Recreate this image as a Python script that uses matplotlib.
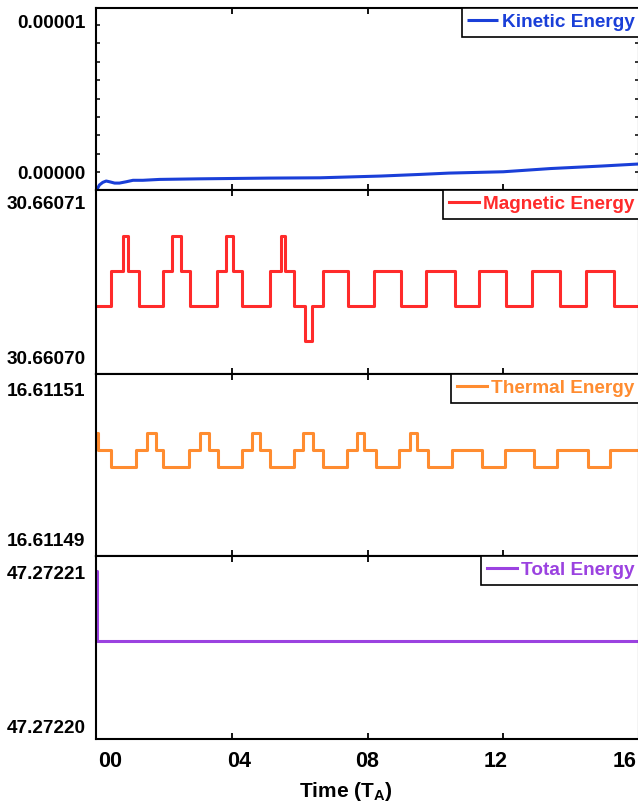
import numpy as np
import matplotlib
matplotlib.use("Agg")
import matplotlib.pyplot as plt
from matplotlib.ticker import FixedLocator, FormatStrFormatter
from matplotlib.transforms import ScaledTranslation

plt.rcParams['font.family'] = ['Liberation Sans', 'DejaVu Sans']
plt.rcParams['font.weight'] = 'bold'
plt.rcParams['mathtext.fontset'] = 'custom'
plt.rcParams['mathtext.rm'] = 'Liberation Sans:bold'
plt.rcParams['mathtext.bf'] = 'Liberation Sans:bold'
plt.rcParams['mathtext.it'] = 'Liberation Sans:bold'

# ---------------- data ----------------
# Kinetic energy (smooth curve)
t_kin = [0.0, 0.10, 0.20, 0.30, 0.40, 0.55, 0.69, 0.89, 1.09, 1.38, 1.87, 3.06,
         5.1, 6.6, 8.4, 9.55, 10.4, 12.0, 13.4, 14.9, 16.0]
e_kin = [-1.30e-6, -8.8e-7, -7.0e-7, -6.1e-7, -6.6e-7, -7.5e-7, -7.5e-7, -6.6e-7,
         -5.6e-7, -5.6e-7, -5.0e-7, -4.6e-7, -4.1e-7, -3.9e-7, -2.7e-7, -1.6e-7,
         -0.7e-7, 0.2e-7, 2.4e-7, 4.1e-7, 5.5e-7]

# Magnetic energy (step changes: start times and levels)
t_mag = [0.0, 0.449, 0.791, 0.939, 1.263, 1.972, 2.238, 2.494, 2.760, 3.566, 3.844,
         4.038, 4.316, 5.122, 5.438, 5.565, 5.830, 6.155, 6.353, 6.677, 7.433, 8.192,
         8.980, 9.718, 10.583, 11.292, 12.080, 12.847, 13.662, 14.441, 15.256, 16.0]
e_mag = [30.6607052, 30.6607071, 30.6607090, 30.6607071, 30.6607052, 30.6607071,
         30.6607090, 30.6607071, 30.6607052, 30.6607071, 30.6607090, 30.6607071,
         30.6607052, 30.6607071, 30.6607090, 30.6607071, 30.6607052, 30.6607033,
         30.6607052, 30.6607071, 30.6607052, 30.6607071, 30.6607052, 30.6607071,
         30.6607052, 30.6607071, 30.6607052, 30.6607071, 30.6607052, 30.6607071,
         30.6607052, 30.6607052]

# Thermal energy
t_th = [0.0, 0.053, 0.428, 1.166, 1.500, 1.777, 1.972, 2.731, 3.055, 3.330, 3.596,
        4.304, 4.611, 4.827, 5.122, 5.830, 6.105, 6.382, 6.695, 7.404, 7.681, 7.897,
        8.242, 8.939, 9.255, 9.470, 9.795, 10.503, 11.371, 12.038, 12.915, 13.585,
        14.500, 15.159, 16.0]
e_th = [16.6115039, 16.6115020, 16.6115001, 16.6115020, 16.6115039, 16.6115020,
        16.6115001, 16.6115020, 16.6115039, 16.6115020, 16.6115001, 16.6115020,
        16.6115039, 16.6115020, 16.6115001, 16.6115020, 16.6115039, 16.6115020,
        16.6115001, 16.6115020, 16.6115039, 16.6115020, 16.6115001, 16.6115020,
        16.6115039, 16.6115020, 16.6115001, 16.6115020, 16.6115001, 16.6115020,
        16.6115001, 16.6115020, 16.6115001, 16.6115020, 16.6115020]

# Total energy
t_tot = [0.0, 0.04, 16.0]
e_tot = [47.2722088, 47.2722050, 47.2722050]

labels = ['Kinetic Energy', 'Magnetic Energy', 'Thermal Energy', 'Total Energy']
colors = ['#1a3fd8', '#ff2b2b', '#ff8c30', '#9b42e0']

ylims = [(-1.22e-6, 1.116e-5),
         (30.6607015, 30.6607115),
         (16.6114904, 16.6115103),
         (47.2721997, 47.2722096)]
ytick_pos = [[0.0, 1.027e-5],
             [30.6607024, 30.6607108],
             [16.6114922, 16.6115086],
             [47.2722004, 47.2722087]]
kin_minor = [i * 1.25e-6 for i in range(9)]

xticks = [0, 4, 8, 12, 16]
xtick_labels = ['00', '04', '08', '12', '16']
xlabel_offsets_px = [14.5, 7.2, 0.0, -7.2, -14.4]

# ---------------- figure ----------------
W, H = 638, 809
fig = plt.figure(figsize=(W / 100, H / 100), dpi=100)
left, right = 96 / W, 639 / W
edges = [8, 190, 374, 556, 739.3]

axes = []
for i in range(4):
    y0 = 1 - edges[i + 1] / H
    h = (edges[i + 1] - edges[i]) / H
    ax = fig.add_axes([left, y0, right - left, h])
    axes.append(ax)

series = [(t_kin, e_kin, 'line'), (t_mag, e_mag, 'step'),
          (t_th, e_th, 'step'), (t_tot, e_tot, 'step')]

for i, ax in enumerate(axes):
    t, e, kind = series[i]
    if kind == 'line':
        ax.plot(t, e, color=colors[i], lw=2.2, label=labels[i], solid_capstyle='butt')
    else:
        ax.step(t, e, where='post', color=colors[i], lw=2.2, label=labels[i])
    ax.set_xlim(0, 16)
    ax.set_ylim(*ylims[i])
    for sp in ax.spines.values():
        sp.set_linewidth(1.5)
    ax.xaxis.set_major_locator(FixedLocator(xticks))
    ax.tick_params(axis='x', which='major', direction='in', top=True, bottom=True,
                   length=4, width=1.3, labelsize=15.5, pad=8.5)
    ax.yaxis.set_major_locator(FixedLocator(ytick_pos[i]))
    ax.yaxis.set_major_formatter(FormatStrFormatter('%.5f'))
    ax.tick_params(axis='y', which='major', length=0, labelsize=13.7, pad=7.5)
    if i == 0:
        ax.yaxis.remove_overlapping_locs = False
        ax.yaxis.set_minor_locator(FixedLocator(kin_minor))
        ax.tick_params(axis='y', which='minor', direction='in', left=True, right=True,
                       length=2.6, width=1.1)
    if i < 3:
        ax.tick_params(axis='x', labelbottom=False)
    else:
        ax.set_xticklabels(xtick_labels)
        for lbl, dx in zip(ax.get_xticklabels(), xlabel_offsets_px):
            lbl.set_transform(lbl.get_transform() +
                              ScaledTranslation(dx / 100, 0, fig.dpi_scale_trans))
        ax.set_xlabel(r'Time (T$_\mathbf{A}$)', fontsize=15, fontweight='bold')
        ax.xaxis.set_label_coords(0.46, -0.222)

    leg = ax.legend(loc='upper right', bbox_to_anchor=(1.002, 1.0), borderaxespad=0,
                    frameon=True, fancybox=False, edgecolor='black', framealpha=1,
                    handlelength=1.6, handletextpad=0.2, borderpad=0.3,
                    labelcolor='linecolor', prop={'weight': 'bold', 'size': 13.7})
    leg.get_frame().set_linewidth(1.2)

fig.savefig('out.png', dpi=100)
